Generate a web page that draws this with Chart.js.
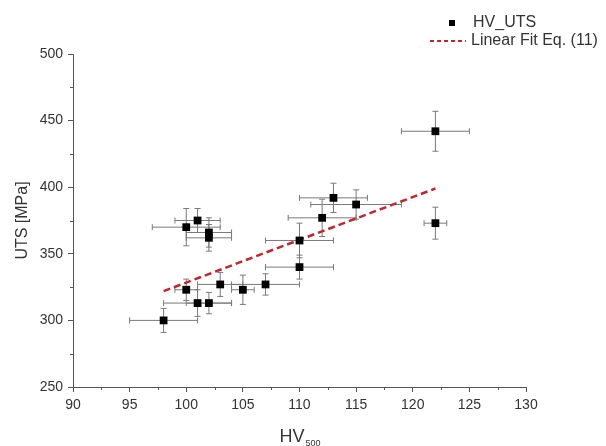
<!DOCTYPE html>
<html lang="en">
<head>
<meta charset="UTF-8">
<title>HV vs UTS</title>
<script src="https://cdn.jsdelivr.net/npm/chart.js"></script>
<style>
    body { margin: 0; background: #fff; }
    canvas { display: block; }
</style>
</head>
<body>
<canvas id="uts" width="606" height="446"></canvas>
<script>
    // hardness / strength measurements with their spreads
    const hv     = [98, 100, 101, 102, 103, 105, 107, 110, 110, 100, 101, 102, 102, 112, 113, 115, 122, 122];
    const uts    = [300, 323, 313, 313, 327, 323, 327, 340, 360, 370, 375, 366, 362, 377, 392, 387, 442, 373];
    const hvErr  = [3, 1, 3, 2, 2, 1, 3, 3, 3, 3, 2, 2, 2, 3, 3, 4, 3, 1];
    const utsErr = [9, 8, 10, 8, 9, 11, 8, 9, 13, 14, 9, 11, 10, 14, 11, 11, 15, 12];

    // linear fit end points
    const fitX = [98, 122];
    const fitY = [322, 399];

    const xTicks = [90, 95, 100, 105, 110, 115, 120, 125, 130];
    const yTicks = [250, 300, 350, 400, 450, 500];

    const FONT = "'Liberation Sans', Arial, sans-serif";
    const AXIS = '#555';
    const TEXT = '#333';

    const errorBars = {
        id: 'errorBars',
        beforeDatasetsDraw(chart) {
            const { ctx, scales: { x, y } } = chart;
            ctx.save();
            ctx.strokeStyle = '#7a7a7a';
            ctx.lineWidth = 1;
            const cap = 3;
            hv.forEach((v, i) => {
                const px = x.getPixelForValue(v);
                const py = y.getPixelForValue(uts[i]);
                const x0 = x.getPixelForValue(v - hvErr[i]);
                const x1 = x.getPixelForValue(v + hvErr[i]);
                const y0 = y.getPixelForValue(uts[i] - utsErr[i]);
                const y1 = y.getPixelForValue(uts[i] + utsErr[i]);
                ctx.beginPath();
                ctx.moveTo(x0, py); ctx.lineTo(x1, py);
                ctx.moveTo(x0, py - cap); ctx.lineTo(x0, py + cap);
                ctx.moveTo(x1, py - cap); ctx.lineTo(x1, py + cap);
                ctx.moveTo(px, y0); ctx.lineTo(px, y1);
                ctx.moveTo(px - cap, y0); ctx.lineTo(px + cap, y0);
                ctx.moveTo(px - cap, y1); ctx.lineTo(px + cap, y1);
                ctx.stroke();
            });
            ctx.restore();
        }
    };

    const extras = {
        id: 'extras',
        afterDraw(chart) {
            const { ctx, scales: { x, y } } = chart;
            ctx.save();

            // minor ticks
            ctx.strokeStyle = AXIS;
            ctx.lineWidth = 1;
            ctx.beginPath();
            for (let i = 0; i < xTicks.length - 1; i++) {
                const px = Math.round(x.getPixelForValue((xTicks[i] + xTicks[i + 1]) / 2)) + 0.5;
                ctx.moveTo(px, y.bottom); ctx.lineTo(px, y.bottom + 3);
            }
            for (let i = 0; i < yTicks.length - 1; i++) {
                const py = Math.round(y.getPixelForValue((yTicks[i] + yTicks[i + 1]) / 2)) + 0.5;
                ctx.moveTo(x.left, py); ctx.lineTo(x.left - 3, py);
            }
            ctx.stroke();

            // x axis title with subscript
            ctx.fillStyle = TEXT;
            ctx.textBaseline = 'alphabetic';
            ctx.textAlign = 'left';
            ctx.font = '18px ' + FONT;
            const hvW = ctx.measureText('HV').width;
            const cx = (x.left + x.right) / 2;
            ctx.fillText('HV', cx - 20, 442);
            ctx.font = '9px ' + FONT;
            ctx.fillText('500', cx - 20 + hvW + 1, 446);

            // legend
            ctx.font = '16px ' + FONT;
            ctx.textBaseline = 'middle';
            ctx.fillStyle = '#000';
            ctx.fillRect(449, 20, 6, 6);
            ctx.fillStyle = TEXT;
            ctx.fillText('HV_UTS', 473, 23);
            ctx.strokeStyle = '#c0272d';
            ctx.lineWidth = 2;
            ctx.setLineDash([4, 3]);
            ctx.beginPath();
            ctx.moveTo(430, 41); ctx.lineTo(466, 41);
            ctx.stroke();
            ctx.setLineDash([]);
            ctx.fillText('Linear Fit Eq. (11)', 471, 41);

            ctx.restore();
        }
    };

    new Chart(document.getElementById('uts'), {
        type: 'scatter',
        data: {
            datasets: [
                {
                    label: 'HV_UTS',
                    data: hv.map((v, i) => ({ x: v, y: uts[i] })),
                    pointStyle: 'rect',
                    pointRadius: 5.5,
                    backgroundColor: '#000',
                    borderColor: '#000',
                    borderWidth: 0
                },
                {
                    label: 'Linear Fit Eq. (11)',
                    data: fitX.map((v, i) => ({ x: v, y: fitY[i] })),
                    showLine: true,
                    borderColor: '#c0272d',
                    borderWidth: 2.5,
                    borderDash: [7, 4],
                    pointRadius: 0
                }
            ]
        },
        options: {
            responsive: false,
            animation: false,
            layout: { padding: { top: 54, right: 80, bottom: 0, left: 13 } },
            plugins: { legend: { display: false }, tooltip: { enabled: false } },
            scales: {
                x: {
                    type: 'linear',
                    min: 90, max: 130,
                    afterBuildTicks: s => { s.ticks = xTicks.map(v => ({ value: v })); },
                    afterFit: s => { s.height = 59; },
                    grid: { drawOnChartArea: false, tickLength: 5, tickColor: AXIS },
                    border: { color: AXIS, width: 1 },
                    ticks: { color: TEXT, padding: 5, font: { family: FONT, size: 14 } }
                },
                y: {
                    type: 'linear',
                    min: 250, max: 500,
                    afterBuildTicks: s => { s.ticks = yTicks.map(v => ({ value: v })); },
                    afterFit: s => { s.width = 60; },
                    grid: { drawOnChartArea: false, tickLength: 5, tickColor: AXIS },
                    border: { color: AXIS, width: 1 },
                    title: {
                        display: true,
                        text: 'UTS [MPa]',
                        color: TEXT,
                        padding: 0,
                        font: { family: FONT, size: 16 }
                    },
                    ticks: { color: TEXT, padding: 5, font: { family: FONT, size: 14 } }
                }
            }
        },
        plugins: [errorBars, extras]
    });
</script>
</body>
</html>
